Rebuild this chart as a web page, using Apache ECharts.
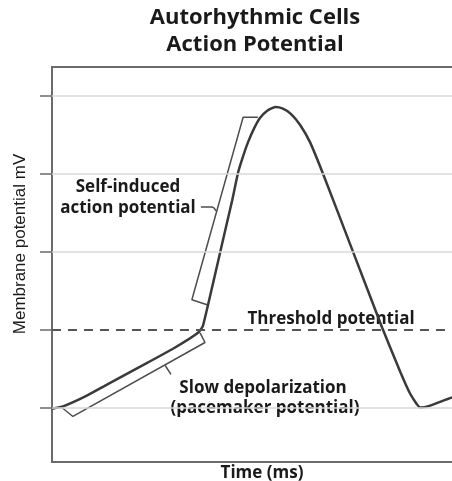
<!DOCTYPE html>
<html>
<head>
<meta charset="utf-8">
<script src="https://cdn.jsdelivr.net/npm/echarts@6/dist/echarts.min.js"></script>
<style>
  html, body { margin: 0; padding: 0; background: #fff; }
  #chart { width: 452px; height: 481px; }
</style>
</head>
<body>
<div id="chart"></div>
<script>
// time (ms) and membrane potential (mV)
const timeMs = [0, 2.7, 8.0, 13.4, 21.5, 29.5, 35.6, 36.8, 39.3, 41.7, 43.9, 45.4, 46.6, 47.8, 49.3, 50.7, 52.4, 54.4, 56.3, 58.3, 60.5, 62.9, 66.1, 73.4, 80.5, 84.9, 87.3, 89.8, 92.2, 97.6, 102.4]
const potential = [-60.3, -59.7, -57.2, -54.1, -49.5, -44.9, -40.8, -39.0, -27.9, -16.9, -6.9, 0.5, 4.6, 8.2, 11.8, 14.4, 16.2, 17.2, 16.8, 15.4, 12.6, 8.2, 0, -20, -39.5, -50.8, -56.4, -60, -59.5, -57.4, -56.2]

// brackets drawn next to the curve
const upperBracketT = [37.8, 34.1, 46.6, 50.2]
const upperBracketV = [-33.6, -32.3, 14.6, 14.6]
const upperPointerT = [36.3, 38.8, 40.0]
const upperPointerV = [-8.5, -8.5, -9.5]
const lowerBracketT = [2.4, 5.1, 37.3, 36.1]
const lowerBracketV = [-60, -62.3, -43.3, -40.8]
const lowerPointerT = [27.6, 29.0]
const lowerPointerV = [-49.2, -51.5]

const yTicks = [-60, -40, -20, 0, 20]
const gridValues = [-60, -20, 0, 20]
const threshold = -40

function zip (xs, ys) {
  return xs.map((x, i) => [x, ys[i]])
}

const chart = echarts.init(document.getElementById('chart'))

const bracketStyle = { color: '#4d4d4d', width: 1.5 }
const boldFont = 'bold 17px "Open Sans"'
const titleFont = 'bold 22px "Open Sans"'

function label (x, y, text, font) {
  return { type: 'text', x: x, y: y, style: { text: text, font: font, fill: '#1a1a1a', textAlign: 'center', textVerticalAlign: 'middle' } }
}

let option = {
  animation: false,
  grid: {
    left: 52,
    top: 67,
    right: -20,
    bottom: 19,
    outerBoundsMode: 'none',
    show: true,
    borderColor: '#6b6b6b',
    borderWidth: 2
  },
  xAxis: {
    type: 'value',
    min: 0,
    max: 102.4,
    axisLine: { show: false },
    axisTick: { show: false },
    axisLabel: { show: false },
    splitLine: { show: false },
    name: 'Time (ms)',
    nameLocation: 'middle',
    nameGap: 3,
    nameTextStyle: {
      fontFamily: 'Open Sans',
      fontWeight: 'bold',
      fontSize: 17,
      color: '#1a1a1a',
      verticalAlign: 'top'
    }
  },
  yAxis: {
    type: 'value',
    min: -74,
    max: 27.5,
    axisLine: { show: false },
    axisTick: {
      show: true,
      customValues: yTicks,
      length: 12,
      lineStyle: { color: '#6b6b6b', width: 1.5 }
    },
    axisLabel: { show: false },
    splitLine: { show: false }
  },
  graphic: [
    label(255, 18, 'Autorhythmic Cells', titleFont),
    label(255, 45, 'Action Potential', titleFont),
    Object.assign(label(20, 244, 'Membrane potential mV', '17px "Liberation Sans"'), { rotation: Math.PI / 2 }),
    label(128, 187, 'Self-induced', boldFont),
    label(128, 208, 'action potential', boldFont),
    label(331, 319, 'Threshold potential', boldFont),
    label(263, 388, 'Slow depolarization', boldFont),
    label(265, 408, '(pacemaker potential)', boldFont)
  ],
  series: [
    {
      // grid lines + threshold
      type: 'line',
      data: [],
      z: 1,
      markLine: {
        silent: true,
        symbol: 'none',
        label: { show: false },
        data: gridValues.map(v => ({ yAxis: v, lineStyle: { color: '#d9d9d9', width: 1.5, type: 'solid' } }))
          .concat([{ yAxis: threshold, lineStyle: { color: '#555', width: 2, type: [9, 7] } }])
      }
    },
    {
      type: 'line',
      data: zip(timeMs, potential),
      smooth: 0.15,
      showSymbol: false,
      z: 3,
      lineStyle: { color: '#3a3a3a', width: 2.5 }
    },
    { type: 'line', data: zip(upperBracketT, upperBracketV), showSymbol: false, z: 2, lineStyle: bracketStyle },
    { type: 'line', data: zip(upperPointerT, upperPointerV), showSymbol: false, z: 2, smooth: true, lineStyle: bracketStyle },
    { type: 'line', data: zip(lowerBracketT, lowerBracketV), showSymbol: false, z: 2, lineStyle: bracketStyle },
    { type: 'line', data: zip(lowerPointerT, lowerPointerV), showSymbol: false, z: 2, lineStyle: bracketStyle }
  ]
}

chart.setOption(option)
</script>
</body>
</html>
